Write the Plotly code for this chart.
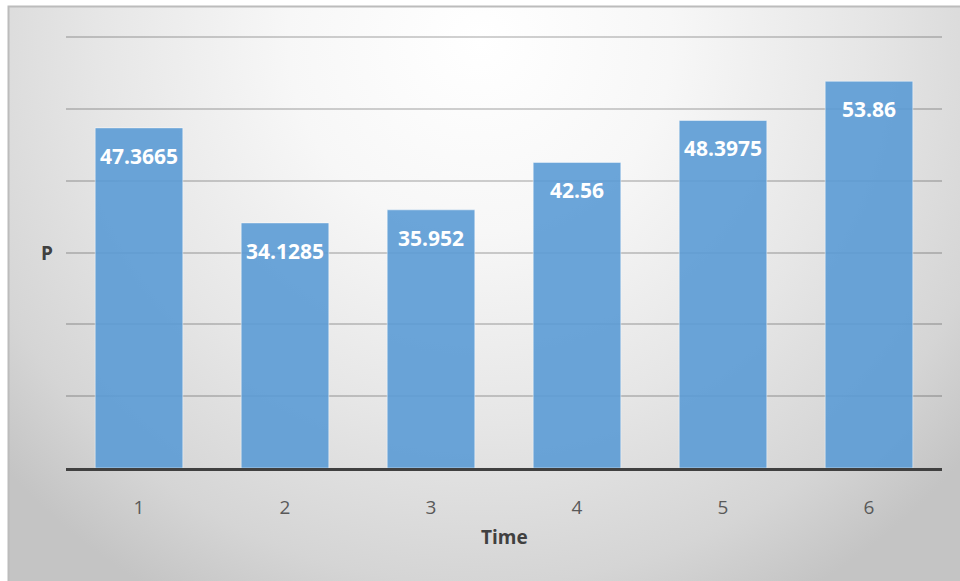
import base64
import plotly.graph_objects as go

# Chart data
times = ["1", "2", "3", "4", "5", "6"]
p_values = [47.3665, 34.1285, 35.952, 42.56, 48.3975, 53.86]
x_title = "Time"
y_title = "P"
y_max = 61  # a little headroom so the 60 gridline is drawn

W, H = 960, 581
L, R, T, B = 66, 18, 30, 113
plot_w = W - L - R
plot_h = H - T - B

# Radial-gradient chart background with a thin frame
bg_svg = f"""<svg xmlns='http://www.w3.org/2000/svg' width='{W}' height='{H}' viewBox='0 0 {W} {H}'>
<defs>
<radialGradient id='g' gradientUnits='userSpaceOnUse' cx='480' cy='40' r='640'>
<stop offset='0' stop-color='#ffffff'/>
<stop offset='0.3' stop-color='#f7f7f7'/>
<stop offset='0.6' stop-color='#e6e6e6'/>
<stop offset='0.85' stop-color='#d5d5d5'/>
<stop offset='1' stop-color='#c4c4c4'/>
</radialGradient>
</defs>
<rect x='0' y='0' width='{W}' height='{H}' fill='#ffffff'/>
<rect x='8.5' y='6.5' width='{W}' height='{H}' fill='url(#g)' stroke='#bcbcbc' stroke-width='2'/>
</svg>"""
bg_src = "data:image/svg+xml;base64," + base64.b64encode(bg_svg.encode()).decode()

fig = go.Figure()
fig.add_trace(go.Bar(
    x=times, y=p_values,
    marker=dict(color="rgba(91,155,213,0.9)",
                line=dict(color="rgba(255,255,255,0.45)", width=1)),
    hoverinfo="x+y",
))

# Value labels just inside the top of each bar (category index positions)
annotations = [
    dict(x=i, y=v, xref="x", yref="y", text="<b>" + str(v) + "</b>",
         showarrow=False, yshift=-28,
         font=dict(family="Open Sans", size=21, color="white"),
         xanchor="center", yanchor="middle")
    for i, v in enumerate(p_values)
]

annotations.append(dict(
    x=0.5, y=(H - 537 - B) / plot_h, xref="paper", yref="paper",
    text="<b>" + x_title + "</b>", showarrow=False,
    font=dict(family="Open Sans", size=19, color="#404040"),
    xanchor="center", yanchor="middle"))
annotations.append(dict(
    x=(47 - L) / plot_w, y=30, xref="paper", yref="y",
    text="<b>" + y_title + "</b>", showarrow=False,
    font=dict(family="Open Sans", size=19, color="#404040"),
    xanchor="center", yanchor="middle"))

fig.update_layout(
    width=W, height=H,
    margin=dict(l=L, r=R, t=T, b=B),
    paper_bgcolor="white",
    plot_bgcolor="rgba(0,0,0,0)",
    bargap=0.4,
    showlegend=False,
    annotations=annotations,
    images=[dict(
        source=bg_src, xref="paper", yref="paper",
        x=-L / plot_w, y=1 + T / plot_h,
        sizex=W / plot_w, sizey=H / plot_h,
        xanchor="left", yanchor="top", sizing="stretch", layer="below")],
    xaxis=dict(
        type="category", range=[-0.5, len(times) - 0.5],
        showgrid=False,
        showline=True, linecolor="#404040", linewidth=3,
        ticks="", ticklabelstandoff=20,
        tickfont=dict(family="Open Sans", size=19, color="#595959"),
    ),
    yaxis=dict(
        range=[0, y_max], tick0=0, dtick=10,
        showgrid=True, gridcolor="rgba(0,0,0,0.18)", gridwidth=1.5,
        zeroline=False, showticklabels=False, ticks="",
    ),
)

fig.write_html("out.html")
